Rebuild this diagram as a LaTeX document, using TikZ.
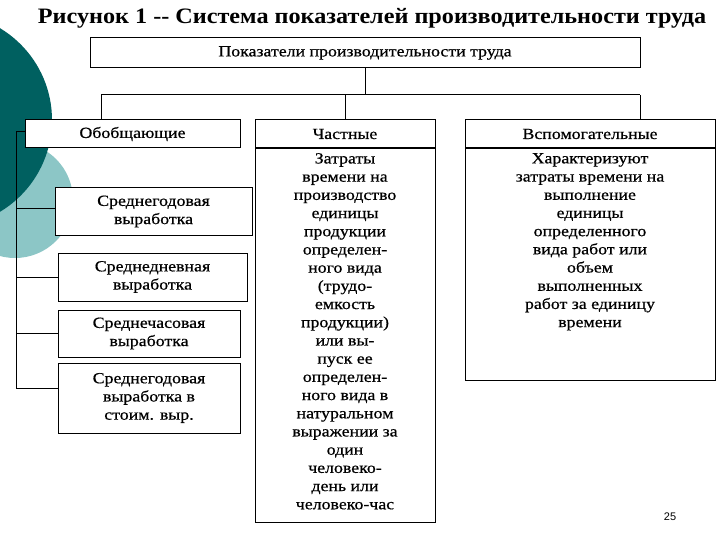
\documentclass[tikz,border=0pt]{standalone}
\usepackage{fontspec}
\setmainfont{Liberation Serif}
\newfontfamily\sansf{Liberation Sans}
\newfontfamily\widef[FakeStretch=1.15,FakeBold=0.6]{Liberation Serif}
\newfontfamily\titlef[FakeStretch=1.1]{Liberation Serif}
\begin{document}
\begin{tikzpicture}[x=1pt,y=-1pt,
 bx/.style={draw,line width=1pt,fill=white,align=center,inner sep=0pt,font=\widef\fontsize{15.5}{18.2}\selectfont},
 tx/.style={align=center,anchor=north,inner sep=0pt,font=\widef\fontsize{15.5}{18.2}\selectfont},
 ln/.style={draw,line width=1pt}]
\useasboundingbox (0,0) rectangle (720,540);
\fill[white] (0,0) rectangle (720,540);
\fill[teal!45!white] (15,200) circle (58);
\fill[teal!75!black] (-55,120) circle (107);
\node[font=\titlef\bfseries\fontsize{22}{25}\selectfont] (title) at (372,18) {Рисунок 1 -- Система показателей производительности труда};
\node[bx,minimum width=550,minimum height=30] (top) at (365,53) {Показатели производительности труда};
\node[bx,minimum width=215,minimum height=28] (g) at (132.5,134) {Обобщающие};
\node[bx,minimum width=180,minimum height=28] (c) at (345,134) {Частные};
\node[bx,minimum width=250,minimum height=28] (v) at (590,134) {Вспомогательные};
\node[bx,minimum width=180,minimum height=374,anchor=north] (cb) at (345,148) {};
\node[tx] (ct) at (345,153) {Затраты\\времени на\\производство\\единицы\\продукции\\определен-\\ного вида\\(трудо-\\емкость\\продукции)\\или вы-\\пуск ее\\определен-\\ного вида в\\натуральном\\выражении за\\один\\человеко-\\день или\\человеко-час};
\node[bx,minimum width=250,minimum height=232,anchor=north] (vb) at (590,148) {};
\node[tx] (vt) at (590,153) {Характеризуют\\затраты времени на\\выполнение\\единицы\\определенного\\вида работ или\\объем\\выполненных\\работ за единицу\\времени};
\node[bx,minimum width=197,minimum height=47] (s1) at (153.5,211.5) {Среднегодовая\\выработка};
\node[bx,minimum width=189,minimum height=48] (s2) at (152.5,277) {Среднедневная\\выработка};
\node[bx,minimum width=182,minimum height=47] (s3) at (149,333.5) {Среднечасовая\\выработка};
\node[bx,minimum width=182,minimum height=70] (s4) at (149,398) {Среднегодовая\\выработка в\\стоим. выр.};
\coordinate (b1) at (101,95);
\coordinate (b2) at (640,95);
\draw[ln] (top.south) -- (365,95);
\draw[ln] (b1) -- (b2);
\draw[ln] (b1) -- (101,120);
\draw[ln] (345,95) -- (c.north);
\draw[ln] (b2) -- (640,120);
\coordinate (l0) at (16,132);
\coordinate (l4) at (16,388);
\draw[ln] (l0) -- (l4);
\draw[ln] (l0) -- (g.west |- l0);
\draw[ln] (16,209) -- (s1.west |- 0,209);
\draw[ln] (16,277) -- (s2.west);
\draw[ln] (16,333) -- (s3.west |- 0,333);
\draw[ln] (l4) -- (s4.west |- l4);
\node[font=\sansf\fontsize{11}{13}\selectfont] (pg) at (670,517) {25};
\end{tikzpicture}
\end{document}
